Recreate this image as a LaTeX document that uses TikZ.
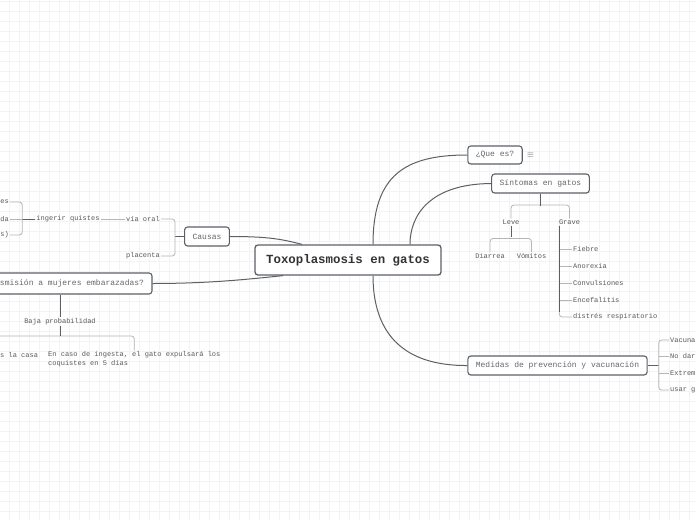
\documentclass[tikz,border=0pt]{standalone}
\usepackage{fontspec}
\setmainfont{Liberation Mono}
\usepackage{tikz}
\usetikzlibrary{positioning}
\definecolor{edge}{HTML}{5C6066}
\definecolor{brack}{HTML}{B3B5B8}
\definecolor{txt}{HTML}{595959}
\definecolor{gridc}{HTML}{F3F3F3}

\begin{document}
\begin{tikzpicture}[
  x=1pt, y=-1pt,
  every node/.style={font=\fontsize{7}{8.5}\selectfont, text=txt, inner sep=1pt},
  box/.style={draw=edge, line width=1.1pt, rounded corners=3pt, fill=white, minimum height=19pt, inner xsep=8pt, font=\fontsize{8}{9}\selectfont, text=black!60},
  root/.style={box, minimum height=30pt, line width=1.3pt, font=\fontsize{12.4}{14}\selectfont\bfseries, text=black!80},
  link/.style={draw=edge, line width=1pt},
  brace/.style={draw=brack, line width=0.8pt, rounded corners=3pt}
]
\useasboundingbox (0,0) rectangle (696,520);
\clip (0,0) rectangle (696,520);
\fill[white] (0,0) rectangle (696,520);
\foreach \gx in {9.5,19.5,...,695} \draw[gridc, line width=0.7pt] (\gx,0) -- (\gx,520);
\foreach \gy in {1.5,11.5,...,519} \draw[gridc, line width=0.7pt] (0,\gy) -- (696,\gy);

% main topics
\node[root, minimum width=186pt] (root) at (348,260) {Toxoplasmosis en gatos};
\node[box, minimum width=54pt, minimum height=18pt] (que) at (495,155) {¿Que es?};
\node[right=3pt of que, text=black!65, font=\fontsize{9}{10}\selectfont] (menu) {$\equiv$};
\node[box, minimum width=97pt] (sint) at (540.5,183.5) {Síntomas en gatos};
\node[box, minimum width=44pt] (causas) at (207,236.5) {Causas};
\node[box, minimum width=184pt, minimum height=21pt] (trans) at (60,283.5) {\makebox[168pt][r]{smisión a mujeres embarazadas?}};
\node[box, minimum width=179pt] (med) at (557.5,365.5) {Medidas de prevención y vacunación};

\draw[link] ([xshift=25pt]root.north) .. controls (373,175) and (405,155) .. (que.west);
\draw[link] ([xshift=62pt]root.north) .. controls (410,215) and (430,184) .. (sint.west);
\draw[link] ([xshift=25pt]root.south) .. controls (373,330) and (400,366) .. (med.west);
\draw[link] (causas.east) .. controls +(40,0) and +(-20,-5) .. ([xshift=-46pt]root.north);
\draw[link] (trans.east) .. controls +(60,0) and +(-30,3) .. ([xshift=-65pt]root.south);

% sintomas
\node (leve) at (511,222) {Leve};
\node (grave) at (569.5,222) {Grave};
\node (diar) at (490,256) {Diarrea};
\node (vomi) at (531.5,256) {Vómitos};
\foreach \name/\txt/\yy in {fieb/Fiebre/249, anor/Anorexia/266, conv/Convulsiones/283, ence/Encefalitis/300, dist/distrés respiratorio/317}
  \node[anchor=west] (\name) at (572,\yy) {\txt};
\draw[brace] (leve.north) |- (540.5,205) -| (grave.north);
\draw[link] (sint.south) -- ++(0,12);
\draw[brace] (diar.north) |- (511,238.5) -| (vomi.north);
\draw[link] (leve.south) -- ++(0,11);
\draw[brace] ([xshift=1.5pt]grave.south west) |- (dist.west);
\foreach \name in {fieb,anor,conv,ence}
  \draw[brace] (559,0 |- \name.west) -- (\name.west);
\draw[link] ([xshift=1.5pt]grave.south west) -- ++(0,86);

% medidas
\draw[link] (med.east) -- ++(11,0) coordinate (mfork);
\foreach \name/\txt/\yy in {vacu/Vacuna/340, nodar/No dar/356.5, extr/Extrem/373, usar/usar g/390}
  \node[anchor=west] (\name) at (669,\yy) {\txt};
\draw[brace] (vacu.west) -| (mfork) |- (usar.west);
\draw[brace] (mfork |- nodar.west) -- (nodar.west);
\draw[brace] (mfork |- extr.west) -- (extr.west);

% causas
\node[anchor=east] (oral) at (161,219) {vía oral};
\node[anchor=east] (plac) at (161,256) {placenta};
\node (ingerir) at (68,219) {ingerir quistes};
\draw[link] (causas.west) -- ++(-9,0) coordinate (cfork);
\draw[brace] (oral.east) -| (cfork) |- (plac.east);
\draw[brace] (ingerir.east) -- (oral.west);
\node[anchor=east] (heces) at (10,202) {es};
\node[anchor=east] (cruda) at (10,219) {da};
\node[anchor=east] (presa) at (10,235) {s)};
\draw[link] (ingerir.west) -- ++(-13,0) coordinate (ifork);
\draw[brace] (heces.east) -| (ifork) |- (presa.east);
\draw[brace] (cruda.east) -- (ifork);

% transmision
\node (baja) at (60,321.5) {Baja probabilidad};
\draw[link] (trans.south) -- (baja.north);
\draw[link] (baja.south) -- ++(0,10) coordinate (bfork);
\node[anchor=west] (casa) at (-1,355) {s la casa};
\node[anchor=north west, align=left] (ingesta) at (47,350.5) {En caso de ingesta, el gato expulsará los\\coquistes en 5 días};
\coordinate (cleft) at (-20,347);
\draw[brace] (bfork) -| (ingesta.north);
\draw[brace] (bfork) -| (cleft);
\draw[link] (baja.south) -- (bfork);
\end{tikzpicture}
\end{document}
